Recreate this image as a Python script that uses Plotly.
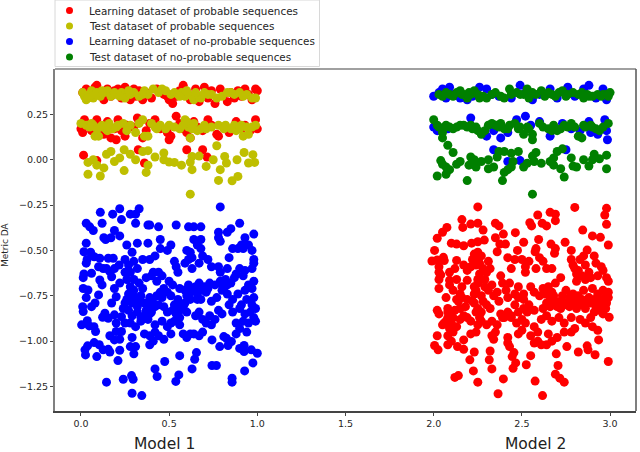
import plotly.graph_objects as go

# values, (x, metric)
learn_prob_top = [(0.01,0.37),(0.03,0.39),(0.05,0.35),(0.08,0.40),(0.09,0.41),(0.11,0.36),(0.13,0.33),(0.15,0.39),(0.17,0.35),(0.19,0.38),(0.21,0.39),(0.23,0.34),(0.25,0.40),(0.26,0.37),(0.28,0.33),(0.30,0.39),(0.31,0.35),(0.33,0.38),(0.35,0.33),(0.37,0.37),(0.40,0.34),(0.43,0.39),(0.47,0.36),(0.49,0.35),(0.50,0.33),(0.52,0.31),(0.54,0.35),(0.56,0.38),(0.58,0.41),(0.60,0.37),(0.62,0.33),(0.65,0.39),(0.67,0.32),(0.70,0.40),(0.72,0.34),(0.74,0.38),(0.76,0.31),(0.79,0.39),(0.81,0.36),(0.83,0.32),(0.85,0.37),(0.87,0.34),(0.89,0.38),(0.91,0.35),(0.93,0.39),(0.95,0.36),(0.97,0.33),(0.99,0.39),(1.00,0.38)]
learn_prob_mid = [(0.00,0.17),(0.01,0.15),(0.02,0.22),(0.04,0.19),(0.06,0.16),(0.09,0.22),(0.11,0.18),(0.13,0.14),(0.15,0.21),(0.17,0.12),(0.19,0.17),(0.20,0.11),(0.21,0.22),(0.23,0.16),(0.25,0.13),(0.26,0.19),(0.30,0.18),(0.32,0.23),(0.35,0.12),(0.37,0.16),(0.39,0.20),(0.42,0.22),(0.45,0.17),(0.49,0.15),(0.50,0.11),(0.51,0.13),(0.54,0.24),(0.56,0.20),(0.58,0.17),(0.60,0.15),(0.62,0.12),(0.64,0.21),(0.66,0.18),(0.69,0.16),(0.72,0.22),(0.74,0.19),(0.77,0.14),(0.78,0.13),(0.81,0.18),(0.84,0.15),(0.88,0.21),(0.91,0.17),(0.93,0.19),(0.96,0.16),(0.99,0.22),(1.00,0.17)]
learn_prob_low = [(0.015,0.025),(0.09,-0.005),(0.325,0.055),(0.36,-0.018),(0.60,0.055),(0.69,0.055),(0.715,0.015)]
learn_prob_cloud = [(2.25,-0.26),(2.80,-0.263),(2.98,-0.268),(2.97,-0.305),(2.66,-0.29),(2.69,-0.30),(2.59,-0.305),(2.69,-0.336),(2.16,-0.33),(2.165,-0.373),(2.21,-0.355),(2.25,-0.35),(2.35,-0.35),(2.37,-0.365),(2.545,-0.347),(2.555,-0.365),(2.615,-0.35),(2.64,-0.365),(2.98,-0.356),(2.075,-0.373),(2.05,-0.40),(2.02,-0.433),(2.28,-0.388),(2.395,-0.41),(2.463,-0.402),(2.845,-0.388),(2.90,-0.42),(2.945,-0.428),(2.35,-0.43),(2.287,-0.443),(2.25,-0.452),(2.215,-0.46),(2.10,-0.46),(2.13,-0.465),(2.17,-0.474),(2.375,-0.465),(2.407,-0.465),(2.51,-0.455),(2.595,-0.44),(2.665,-0.465),(2.745,-0.455),(2.99,-0.47),(2.005,-0.50),(2.36,-0.507),(2.475,-0.50),(2.58,-0.49),(2.575,-0.507),(2.69,-0.49),(2.685,-0.516),(2.78,-0.50),(2.87,-0.498),
(1.99,-0.558),(2.02,-0.553),(2.055,-0.538),(2.06,-0.556),(2.03,-0.59),(2.03,-0.62),(2.04,-0.635),(2.09,-0.62),(2.12,-0.60),(2.13,-0.555),(2.17,-0.58),(2.19,-0.61),(2.21,-0.59),(2.23,-0.52),(2.24,-0.54),(2.25,-0.51),(2.27,-0.53),(2.26,-0.57),(2.28,-0.60),(2.30,-0.62),(2.31,-0.56),(2.32,-0.60),(2.38,-0.64),(2.42,-0.54),(2.44,-0.60),(2.46,-0.55),(2.50,-0.55),(2.52,-0.59),(2.54,-0.56),(2.52,-0.62),(2.58,-0.60),(2.60,-0.54),(2.62,-0.56),(2.64,-0.60),(2.67,-0.60),(2.72,-0.65),(2.78,-0.55),(2.80,-0.60),(2.81,-0.63),(2.83,-0.55),(2.85,-0.53),(2.86,-0.58),(2.88,-0.62),(2.91,-0.53),(2.92,-0.57),(2.95,-0.59),(2.96,-0.61),(2.93,-0.64),(2.98,-0.65),(2.99,-0.67),
(2.03,-0.66),(2.09,-0.665),(2.09,-0.69),(2.03,-0.71),(2.07,-0.76),(2.11,-0.72),(2.13,-0.66),(2.15,-0.74),(2.13,-0.77),(2.16,-0.76),(2.19,-0.77),(2.19,-0.665),(2.23,-0.70),(2.24,-0.72),(2.25,-0.66),(2.27,-0.75),(2.29,-0.70),(2.31,-0.72),(2.33,-0.69),(2.36,-0.73),(2.39,-0.68),(2.41,-0.72),(2.43,-0.68),(2.46,-0.74),(2.48,-0.70),(2.51,-0.74),(2.55,-0.70),(2.57,-0.73),(2.62,-0.71),(2.63,-0.74),(2.65,-0.70),(2.67,-0.73),(2.69,-0.68),(2.73,-0.75),(2.75,-0.72),(2.77,-0.76),(2.79,-0.74),(2.82,-0.75),(2.85,-0.72),(2.88,-0.76),(2.90,-0.71),(2.93,-0.74),(2.96,-0.72),(2.99,-0.73),(2.99,-0.76),(2.98,-0.79),
(2.02,-0.83),(2.03,-0.85),(2.08,-0.82),(2.08,-0.84),(2.14,-0.78),(2.18,-0.81),(2.23,-0.79),(2.25,-0.82),(2.27,-0.84),(2.30,-0.80),(2.32,-0.82),(2.38,-0.85),(2.40,-0.87),(2.42,-0.84),(2.44,-0.86),(2.48,-0.84),(2.51,-0.82),(2.53,-0.84),(2.57,-0.83),(2.62,-0.82),(2.64,-0.79),(2.66,-0.81),(2.69,-0.78),(2.70,-0.81),(2.72,-0.82),(2.74,-0.79),(2.77,-0.81),(2.80,-0.78),(2.83,-0.80),(2.86,-0.82),(2.89,-0.79),(2.92,-0.81),(2.94,-0.83),(2.96,-0.85),(2.975,-0.82),
(2.05,-0.91),(2.07,-0.89),(2.09,-0.93),(2.11,-0.87),(2.11,-0.95),(2.13,-0.92),(2.15,-0.88),(2.17,-0.86),(2.19,-0.87),(2.21,-0.89),(2.25,-0.91),(2.27,-0.89),(2.30,-0.91),(2.33,-0.89),(2.36,-0.91),(2.39,-0.87),(2.44,-0.87),(2.47,-0.90),(2.50,-0.88),(2.52,-0.90),(2.57,-0.92),(2.61,-0.88),(2.64,-0.86),(2.67,-0.89),(2.71,-0.87),(2.74,-0.90),(2.78,-0.87),(2.83,-0.88),(2.86,-0.90),(2.89,-0.87),(2.90,-0.92),(2.93,-0.94),
(2.005,-1.024),(2.025,-1.048),(2.02,-0.97),(2.135,-1.03),(2.17,-1.045),(2.17,-0.993),(2.23,-1.06),(2.205,-1.103),(2.225,-1.164),(2.12,-1.20),(2.14,-1.19),(2.25,-1.226),(2.32,-1.054),(2.315,-1.103),(2.33,-1.153),(2.365,-1.29),(2.395,-1.208),(2.45,-1.15),(2.465,-1.12),(2.445,-1.085),(2.455,-1.063),(2.525,-1.13),(2.575,-1.22),(2.617,-1.30),(2.55,-1.08),(2.705,-1.134),(2.69,-1.182),(2.715,-1.204),(2.74,-1.226),(2.695,-1.07),(2.755,-1.03),(2.82,-1.06),(2.87,-1.026),(2.875,-1.048),(2.915,-1.075),(2.99,-1.112),(2.935,-0.993),(2.995,-0.868),
(2.08,-0.97),(2.10,-1.00),(2.08,-1.02),(2.21,-0.96),(2.24,-0.95),(2.33,-0.97),(2.35,-0.95),(2.34,-0.99),(2.42,-0.98),(2.42,-1.01),(2.43,-1.03),(2.48,-0.96),(2.50,-0.94),(2.55,-0.97),(2.57,-1.01),(2.59,-1.00),(2.61,-1.02),(2.59,-0.95),(2.65,-0.96),(2.64,-1.02),(2.67,-1.00),(2.70,-0.98),(2.74,-0.95),(2.78,-0.95),(2.80,-0.93),
(2.22,-0.55),(2.24,-0.58),(2.26,-0.63),(2.25,-0.68),(2.23,-0.74),(2.22,-0.78),(2.24,-0.84),(2.26,-0.87),(2.28,-0.78),(2.29,-0.66),(2.79,-0.58),(2.82,-0.61),(2.84,-0.64),(2.86,-0.66),(2.81,-0.67),(2.89,-0.65),(2.84,-0.77),(2.87,-0.78),(2.91,-0.77),(2.95,-0.78),(2.97,-0.76),(2.96,-0.80),(2.91,-0.84),(2.72,-0.78),(2.75,-0.80),(2.78,-0.79),(2.81,-0.82),(2.68,-0.75),(2.64,-0.73),(2.66,-0.77),(2.60,-0.75),(2.54,-0.80),(2.51,-0.77),(2.48,-0.76),(2.46,-0.80),(2.42,-0.76),(2.37,-0.78),(2.34,-0.75),(2.16,-0.70),(2.12,-0.83),(2.15,-0.82),(2.06,-0.90),(2.08,-0.87),(2.10,-0.90)]

test_prob_top = [(0.01,0.37),(0.02,0.35),(0.03,0.33),(0.05,0.36),(0.06,0.38),(0.07,0.34),(0.09,0.37),(0.11,0.35),(0.13,0.37),(0.15,0.38),(0.17,0.35),(0.20,0.36),(0.23,0.37),(0.25,0.34),(0.28,0.36),(0.30,0.37),(0.33,0.35),(0.36,0.38),(0.38,0.36),(0.41,0.39),(0.44,0.37),(0.46,0.39),(0.48,0.38),(0.51,0.36),(0.55,0.36),(0.57,0.37),(0.59,0.35),(0.61,0.36),(0.64,0.33),(0.66,0.35),(0.68,0.34),(0.70,0.37),(0.74,0.36),(0.77,0.34),(0.80,0.35),(0.85,0.37),(0.87,0.36),(0.90,0.37),(0.94,0.36),(0.97,0.34),(0.99,0.34),
(0.04,0.34),(0.08,0.36),(0.12,0.38),(0.19,0.37),(0.22,0.35),(0.27,0.38),(0.35,0.36),(0.53,0.37),(0.56,0.35),(0.60,0.38),(0.63,0.35),(0.65,0.37),(0.72,0.36),(0.83,0.37),(0.92,0.35)]
test_prob_mid = [(0.00,0.20),(0.03,0.19),(0.05,0.18),(0.07,0.19),(0.08,0.13),(0.10,0.13),(0.12,0.19),(0.14,0.17),(0.16,0.20),(0.18,0.17),(0.21,0.19),(0.24,0.20),(0.28,0.19),(0.31,0.15),(0.33,0.20),(0.36,0.13),(0.38,0.13),(0.40,0.20),(0.42,0.18),(0.45,0.19),(0.50,0.19),(0.53,0.18),(0.56,0.17),(0.59,0.22),(0.61,0.18),(0.62,0.12),(0.64,0.20),(0.66,0.16),(0.68,0.17),(0.71,0.17),(0.74,0.18),(0.78,0.19),(0.82,0.19),(0.85,0.17),(0.88,0.16),(0.91,0.19),(0.92,0.13),(0.95,0.14),(0.97,0.18),(0.99,0.19),
(0.06,0.20),(0.09,0.17),(0.11,0.18),(0.15,0.16),(0.20,0.18),(0.26,0.16),(0.35,0.22),(0.43,0.17),(0.48,0.17),(0.58,0.19),(0.60,0.21),(0.63,0.17),(0.70,0.19),(0.81,0.17),(0.87,0.19),(0.90,0.17),(0.94,0.18)]
test_prob_low = [(0.04,-0.015),(0.04,-0.08),(0.07,0.0),(0.11,-0.09),(0.09,-0.03),(0.13,-0.045),(0.145,0.03),(0.17,0.045),(0.19,-0.01),(0.22,0.01),(0.245,0.055),(0.28,0.03),(0.31,0.0),(0.245,-0.06),(0.35,0.045),(0.38,0.05),(0.42,0.015),(0.38,-0.03),(0.37,-0.07),(0.47,0.037),(0.47,0.0),(0.50,-0.013),(0.53,-0.015),(0.57,-0.03),(0.62,-0.19),(0.63,-0.055),(0.63,0.018),(0.67,0.02),(0.71,-0.037),(0.75,0.0),(0.77,0.077),(0.78,-0.114),(0.79,-0.055),(0.815,0.018),(0.825,-0.018),(0.857,-0.116),(0.89,-0.092),(0.885,0.0),(0.925,0.04),(0.95,-0.018),(0.975,0.028),(0.985,-0.015),(0.62,-0.013)]

learn_noprob_cloud = [(0.03,-0.35),(0.05,-0.37),(0.07,-0.39),(0.11,-0.29),(0.12,-0.35),(0.18,-0.30),(0.22,-0.27),(0.23,-0.33),(0.28,-0.30),(0.31,-0.30),(0.33,-0.27),(0.31,-0.35),(0.38,-0.36),(0.39,-0.36),(0.44,-0.37),(0.54,-0.36),(0.61,-0.37),(0.64,-0.37),(0.68,-0.37),(0.79,-0.26),(0.90,-0.35),(0.85,-0.38),(0.83,-0.40),(0.78,-0.40),(0.98,-0.41),(0.93,-0.43),(0.78,-0.43),(0.79,-0.45),(0.13,-0.43),(0.14,-0.44),(0.17,-0.43),(0.19,-0.39),(0.22,-0.42),(0.03,-0.46),(0.26,-0.47),(0.32,-0.46),(0.38,-0.46),(0.45,-0.44),(0.51,-0.47),(0.64,-0.44),(0.68,-0.44),(0.66,-0.47),(0.93,-0.47),(0.91,-0.47),(0.95,-0.47),(0.86,-0.49),(0.89,-0.49),(0.92,-0.49),(0.97,-0.50),
(0.013,-0.65),(0.017,-0.63),(0.03,-0.57),(0.035,-0.55),(0.017,-0.507),(0.055,-0.51),(0.075,-0.535),(0.013,-0.71),(0.04,-0.718),(0.03,-0.76),(0.06,-0.626),(0.01,-0.81),(0.013,-0.837),(0.06,-0.81),(0.08,-0.79),(0.10,-0.745),(0.107,-0.663),(0.12,-0.69),(0.10,-0.59),(0.107,-0.543),(0.126,-0.60),(0.155,-0.543),(0.183,-0.543),(0.164,-0.617),(0.145,-0.60),(0.19,-0.60),(0.217,-0.58),(0.174,-0.645),(0.22,-0.68),(0.19,-0.71),(0.20,-0.755),(0.174,-0.79),(0.136,-0.846),(0.155,-0.874),(0.123,-0.868),(0.19,-0.855),(0.004,-0.91),(0.036,-0.887),(0.047,-0.916),(0.074,-0.92),(0.083,-0.947),(0.20,-0.90),(0.23,-0.865),(0.20,-0.947),(0.164,-0.97),(0.19,-0.993),(0.22,-0.99),(0.23,-0.947),(0.22,-1.05),(0.075,-1.008),(0.104,-1.02),(0.038,-1.026),(0.023,-1.048),(0.026,-1.076),(0.126,-1.048),(0.155,-1.045),(0.164,-1.06),(0.09,-1.085),(0.21,-1.107),(0.145,-1.226),(0.24,-1.21),(0.287,-1.19),(0.296,-1.21),(0.29,-1.287),(0.345,-1.30),(0.42,-1.153),(0.432,-1.195),(0.475,-1.112),(0.538,-1.222),(0.555,-1.186),(0.56,-1.08),(0.63,-1.153),(0.645,-1.10),(0.655,-1.063),(0.743,-1.134),(0.768,-1.134),(0.857,-1.204),(0.857,-1.226),(0.928,-1.164),(0.975,-1.12),(1.0,-1.067),(0.966,-1.048),(0.925,-1.057),(0.925,-1.024),(0.90,-1.04),(0.853,-1.002),(0.834,-1.024),(0.787,-1.03),(0.81,-0.975),(0.743,-0.993),(0.825,-0.984),
(0.25,-0.55),(0.27,-0.58),(0.29,-0.51),(0.30,-0.56),(0.25,-0.62),(0.28,-0.62),(0.32,-0.60),(0.35,-0.55),(0.39,-0.55),(0.42,-0.53),(0.45,-0.49),(0.49,-0.50),(0.53,-0.56),(0.54,-0.59),(0.55,-0.62),(0.60,-0.50),(0.62,-0.51),(0.61,-0.55),(0.63,-0.54),(0.59,-0.57),(0.63,-0.60),(0.68,-0.49),(0.69,-0.53),(0.72,-0.55),(0.67,-0.57),(0.74,-0.59),(0.78,-0.59),(0.79,-0.62),(0.84,-0.54),(0.83,-0.60),(0.88,-0.63),(0.90,-0.60),(0.93,-0.61),(0.97,-0.60),(0.98,-0.55),(0.98,-0.57),
(0.26,-0.66),(0.28,-0.70),(0.30,-0.66),(0.33,-0.68),(0.35,-0.71),(0.37,-0.65),(0.40,-0.64),(0.41,-0.62),(0.44,-0.62),(0.46,-0.64),(0.43,-0.67),(0.50,-0.67),(0.52,-0.69),(0.47,-0.71),(0.45,-0.73),(0.56,-0.71),(0.59,-0.72),(0.61,-0.69),(0.64,-0.71),(0.67,-0.68),(0.70,-0.70),(0.73,-0.68),(0.76,-0.69),(0.79,-0.67),(0.82,-0.66),(0.85,-0.68),(0.87,-0.65),(0.92,-0.64),(0.95,-0.69),(0.98,-0.67),(0.93,-0.72),(0.97,-0.71),
(0.27,-0.74),(0.26,-0.77),(0.29,-0.79),(0.31,-0.76),(0.33,-0.78),(0.36,-0.79),(0.39,-0.76),(0.41,-0.79),(0.43,-0.75),(0.46,-0.76),(0.49,-0.73),(0.51,-0.75),(0.55,-0.77),(0.57,-0.80),(0.60,-0.75),(0.62,-0.77),(0.66,-0.74),(0.68,-0.77),(0.71,-0.73),(0.74,-0.78),(0.77,-0.76),(0.80,-0.72),(0.83,-0.74),(0.86,-0.77),(0.89,-0.74),(0.91,-0.80),(0.94,-0.77),(0.98,-0.76),(0.99,-0.82),(0.97,-0.80),
(0.24,-0.82),(0.27,-0.83),(0.29,-0.86),(0.32,-0.84),(0.34,-0.87),(0.37,-0.83),(0.39,-0.85),(0.42,-0.81),(0.47,-0.81),(0.49,-0.84),(0.52,-0.83),(0.54,-0.85),(0.56,-0.83),(0.58,-0.81),(0.60,-0.84),(0.65,-0.86),(0.67,-0.84),(0.69,-0.88),(0.73,-0.86),(0.78,-0.83),(0.80,-0.85),(0.84,-0.80),(0.86,-0.84),(0.90,-0.82),(0.93,-0.85),(0.96,-0.84),(0.98,-0.87),
(0.25,-0.90),(0.28,-0.90),(0.31,-0.92),(0.34,-0.89),(0.38,-0.88),(0.42,-0.91),(0.46,-0.89),(0.49,-0.92),(0.51,-0.90),(0.53,-0.89),(0.56,-0.91),(0.56,-0.87),(0.71,-0.90),(0.74,-0.91),(0.76,-0.88),(0.88,-0.90),(0.92,-0.89),(0.95,-0.90),(0.99,-0.89),(0.94,-0.95),(0.88,-0.96),(0.90,-0.93),(0.29,-0.98),(0.31,-1.03),(0.30,-1.07),(0.28,-1.03),(0.36,-0.96),(0.39,-0.97),(0.39,-1.02),(0.41,-1.00),(0.42,-0.95),(0.44,-0.97),(0.47,-0.99),(0.51,-0.96),(0.58,-0.96),(0.60,-0.98),(0.62,-0.96),(0.64,-0.96),(0.67,-0.97),(0.69,-0.95),
(0.28,-0.75),(0.30,-0.72),(0.34,-0.75),(0.32,-0.81),(0.25,-0.79),(0.38,-0.80),(0.40,-0.84),(0.36,-0.86),(0.44,-0.80),(0.55,-0.80),(0.53,-0.80),(0.59,-0.79),(0.62,-0.73),(0.65,-0.70),(0.66,-0.77),(0.69,-0.72),(0.72,-0.71),(0.80,-0.69),(0.83,-0.69),(0.81,-0.71)]
learn_noprob_top = [(2.00,0.35),(2.03,0.37),(2.05,0.39),(2.07,0.34),(2.09,0.40),(2.11,0.36),(2.15,0.34),(2.19,0.33),(2.22,0.35),(2.26,0.40),(2.30,0.39),(2.33,0.36),(2.37,0.35),(2.44,0.34),(2.49,0.41),(2.52,0.37),(2.56,0.33),(2.60,0.36),(2.66,0.39),(2.70,0.34),(2.76,0.40),(2.80,0.35),(2.85,0.39),(2.88,0.41),(2.92,0.34),(2.96,0.39),(2.98,0.33)]
learn_noprob_mid = [(2.00,0.18),(2.02,0.16),(2.08,0.17),(2.21,0.23),(2.24,0.17),(2.30,0.13),(2.34,0.16),(2.38,0.12),(2.42,0.15),(2.47,0.22),(2.52,0.24),(2.55,0.19),(2.60,0.21),(2.66,0.13),(2.73,0.20),(2.78,0.17),(2.83,0.16),(2.88,0.21),(2.89,0.15),(2.93,0.14),(2.97,0.22),(2.98,0.16),(2.985,0.11)]
learn_noprob_low = [(2.34,0.055),(2.42,-0.01),(2.49,-0.005),(2.75,0.055)]

test_noprob_top = [(2.03,0.36),(2.05,0.35),(2.07,0.37),(2.09,0.36),(2.13,0.37),(2.15,0.38),(2.17,0.36),(2.19,0.34),(2.21,0.36),(2.23,0.38),(2.25,0.36),(2.28,0.35),(2.30,0.34),(2.33,0.36),(2.35,0.37),(2.40,0.34),(2.43,0.39),(2.47,0.37),(2.49,0.36),(2.53,0.39),(2.54,0.34),(2.58,0.36),(2.61,0.38),(2.63,0.35),(2.67,0.36),(2.71,0.37),(2.73,0.38),(2.76,0.36),(2.79,0.37),(2.82,0.36),(2.85,0.34),(2.87,0.36),(2.90,0.35),(2.93,0.36),(2.96,0.36),(2.98,0.36),(3.00,0.37),
(2.11,0.35),(2.16,0.36),(2.20,0.37),(2.26,0.34),(2.38,0.35),(2.44,0.36),(2.51,0.36),(2.56,0.37),(2.65,0.37),(2.69,0.35),(2.75,0.35),(2.84,0.37),(2.88,0.35),(2.95,0.35),(2.99,0.35)]
test_noprob_mid = [(2.00,0.22),(2.02,0.19),(2.05,0.17),(2.05,0.15),(2.05,0.12),(2.09,0.18),(2.13,0.18),(2.17,0.19),(2.19,0.18),(2.22,0.17),(2.25,0.16),(2.27,0.14),(2.31,0.19),(2.33,0.20),(2.37,0.18),(2.40,0.17),(2.43,0.19),(2.46,0.20),(2.49,0.18),(2.51,0.14),(2.54,0.17),(2.56,0.14),(2.56,0.11),(2.60,0.20),(2.65,0.17),(2.68,0.19),(2.70,0.16),(2.74,0.19),(2.78,0.20),(2.82,0.13),(2.84,0.12),(2.86,0.18),(2.89,0.19),(2.92,0.17),(2.96,0.18),(2.99,0.20),
(2.03,0.18),(2.07,0.19),(2.11,0.17),(2.15,0.19),(2.21,0.19),(2.24,0.18),(2.29,0.16),(2.35,0.19),(2.38,0.20),(2.42,0.17),(2.48,0.17),(2.53,0.18),(2.62,0.18),(2.67,0.16),(2.72,0.17),(2.76,0.18),(2.80,0.18),(2.85,0.19),(2.90,0.18),(2.94,0.16)]
test_noprob_low = [(2.08,0.08),(2.11,0.04),(2.02,-0.09),(2.07,-0.08),(2.09,-0.055),(2.04,-0.005),(2.05,-0.025),(2.07,-0.04),(2.13,-0.025),(2.15,-0.01),(2.19,-0.115),(2.20,-0.03),(2.21,0.015),(2.24,-0.04),(2.23,0.0),(2.27,-0.01),(2.31,0.0),(2.31,-0.05),(2.34,-0.04),(2.36,0.015),(2.37,0.045),(2.40,0.045),(2.44,0.035),(2.48,0.045),(2.45,-0.01),(2.44,-0.04),(2.42,-0.055),(2.40,-0.07),(2.39,-0.115),(2.51,-0.04),(2.53,-0.02),(2.56,0.02),(2.58,0.04),(2.61,-0.02),(2.57,-0.01),(2.66,-0.01),(2.68,-0.03),(2.68,0.01),(2.70,0.045),(2.73,0.06),(2.72,-0.05),(2.74,-0.095),(2.78,0.01),(2.79,-0.035),(2.81,-0.04),(2.85,0.0),(2.88,-0.035),(2.90,0.0),(2.91,0.03),(2.94,0.005),(2.98,0.025),(2.98,-0.05),(2.56,-0.19)]

series_names = ["Learning dataset of probable sequences", "Test dataset of probable sequences",
                "Learning dataset of no-probable sequences", "Test dataset of no-probable sequences"]
series_colors = ["#ff0000", "#bfbf00", "#0000ff", "#008000"]
series_points = [learn_prob_top + learn_prob_mid + learn_prob_low + learn_prob_cloud,
                 test_prob_top + test_prob_mid + test_prob_low,
                 learn_noprob_cloud + learn_noprob_top + learn_noprob_mid + learn_noprob_low,
                 test_noprob_top + test_noprob_mid + test_noprob_low]

x_ticks = [0.0, 0.5, 1.0, 1.5, 2.0, 2.5, 3.0]
y_ticks = [-1.25, -1.0, -0.75, -0.5, -0.25, 0.0, 0.25]

W, H = 640, 452
L, R, T, B = 55, 4, 69, 41

fig = go.Figure()
for name, color, pts in zip(series_names, series_colors, series_points):
    fig.add_trace(go.Scatter(
        x=[p[0] for p in pts],
        y=[p[1] for p in pts],
        mode="markers",
        name=name,
        showlegend=False,
        marker=dict(color=color, size=9, line=dict(width=0)),
    ))


# plotly's legend rows can't go under 19px, so the tight legend box is drawn by hand
# page pixels -> paper fractions of the plot area
def px(v):
    return (v - L) / (W - L - R)


def py(v):
    return 1 - (v - T) / (H - T - B)


fig.add_shape(type="rect", xref="paper", yref="paper", x0=px(55), x1=px(319.5), y0=py(0), y1=py(66.5),
              line=dict(color="#d8d8d8", width=1), fillcolor="white", layer="below")
for i, (name, color) in enumerate(zip(series_names, series_colors)):
    row = 10.5 + i * 15.5
    fig.add_shape(type="circle", xref="paper", yref="paper", x0=px(66), x1=px(73),
                  y0=py(row + 3.5), y1=py(row - 3.5), fillcolor=color, line=dict(width=0))
    fig.add_annotation(text=name, x=px(88), y=py(row), xref="paper", yref="paper", xanchor="left",
                       yanchor="middle", showarrow=False, borderpad=0, font=dict(size=10.4, color="#262626"))

# spines differ in the picture: left and top are grey, bottom and right darker
fig.add_shape(type="line", xref="paper", yref="paper", x0=0, x1=1, y0=1, y1=1,
              line=dict(color="#808080", width=1.5))
fig.add_shape(type="line", xref="paper", yref="paper", x0=1, x1=1, y0=0, y1=1,
              line=dict(color="#555555", width=1.5))

fig.add_annotation(text="Model 1", x=0.475, y=py(444), xref="x", yref="paper", showarrow=False, borderpad=0,
                   yanchor="middle", font=dict(size=15.5, color="#222222"))
fig.add_annotation(text="Model 2", x=2.58, y=py(444), xref="x", yref="paper", showarrow=False, borderpad=0,
                   yanchor="middle", font=dict(size=15.5, color="#222222"))
fig.add_annotation(text="Metric DA", x=px(5), y=py(245), xref="paper", yref="paper", showarrow=False,
                   xanchor="center", yanchor="middle", borderpad=0, textangle=-90,
                   font=dict(size=9, color="#262626"))

fig.update_layout(
    width=W,
    height=H,
    margin=dict(l=L, r=R, t=T, b=B),
    paper_bgcolor="white",
    plot_bgcolor="white",
    font=dict(family="DejaVu Sans", size=9.5, color="#262626"),
    showlegend=False,
)
fig.update_xaxes(range=[-0.147, 3.147], tickvals=x_ticks, tickformat=".1f", showgrid=False, zeroline=False,
                 showline=True, linecolor="#444444", linewidth=1.5, ticks="outside", ticklen=3, automargin=False)
fig.update_yaxes(range=[-1.385, 0.50], tickvals=y_ticks, tickformat=".2f", showgrid=False, zeroline=False,
                 showline=True, linecolor="#808080", linewidth=2, ticks="outside", ticklen=3, automargin=False)

# the page's default 8px body margin would push the figure off the window
fig.write_html("out.html", config={"displayModeBar": False}, post_script="document.body.style.margin='0';")
